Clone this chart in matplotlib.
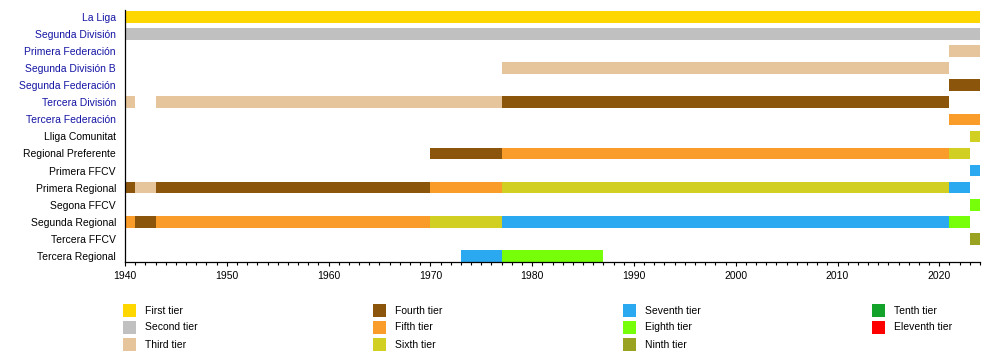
import matplotlib
matplotlib.use("Agg")

import matplotlib.pyplot as plt
from matplotlib.patches import Rectangle
from matplotlib.ticker import MultipleLocator

# leagues, top to bottom
leagues = [
    "La Liga", "Segunda División", "Primera Federación", "Segunda División B",
    "Segunda Federación", "Tercera División", "Tercera Federación",
    "Lliga Comunitat", "Regional Preferente", "Primera FFCV",
    "Primera Regional", "Segona FFCV", "Segunda Regional", "Tercera FFCV",
    "Tercera Regional",
]
linked = [True] * 7 + [False] * 8

tier_names = [
    "First tier", "Second tier", "Third tier", "Fourth tier", "Fifth tier",
    "Sixth tier", "Seventh tier", "Eighth tier", "Ninth tier", "Tenth tier",
    "Eleventh tier",
]
tier_colors = [
    "#FFD700", "#C0C0C0", "#E6C49C", "#8B560C", "#FA9C2A", "#D0CF22",
    "#2AA8F0", "#77FF0A", "#9AA222", "#14A32A", "#FF0000",
]

# (league, start, end, tier number)
periods = [
    ("La Liga", 1940, 2024, 1),
    ("Segunda División", 1940, 2024, 2),
    ("Primera Federación", 2021, 2024, 3),
    ("Segunda División B", 1977, 2021, 3),
    ("Segunda Federación", 2021, 2024, 4),
    ("Tercera División", 1940, 1941, 3),
    ("Tercera División", 1943, 1977, 3),
    ("Tercera División", 1977, 2021, 4),
    ("Tercera Federación", 2021, 2024, 5),
    ("Lliga Comunitat", 2023, 2024, 6),
    ("Regional Preferente", 1970, 1977, 4),
    ("Regional Preferente", 1977, 2021, 5),
    ("Regional Preferente", 2021, 2023, 6),
    ("Primera FFCV", 2023, 2024, 7),
    ("Primera Regional", 1940, 1941, 4),
    ("Primera Regional", 1941, 1943, 3),
    ("Primera Regional", 1943, 1970, 4),
    ("Primera Regional", 1970, 1977, 5),
    ("Primera Regional", 1977, 2021, 6),
    ("Primera Regional", 2021, 2023, 7),
    ("Segona FFCV", 2023, 2024, 8),
    ("Segunda Regional", 1940, 1941, 5),
    ("Segunda Regional", 1941, 1943, 4),
    ("Segunda Regional", 1943, 1970, 5),
    ("Segunda Regional", 1970, 1977, 6),
    ("Segunda Regional", 1977, 2021, 7),
    ("Segunda Regional", 2021, 2023, 8),
    ("Tercera FFCV", 2023, 2024, 9),
    ("Tercera Regional", 1973, 1977, 7),
    ("Tercera Regional", 1977, 1987, 8),
]

plt.rcParams["font.family"] = ["Liberation Sans", "DejaVu Sans"]

fig = plt.figure(figsize=(10, 3.52), dpi=100)
ax = fig.add_axes([0.125, 0.2543, 0.980 - 0.125, 0.9716 - 0.2543])

for league, start, end, tier in periods:
    row = leagues.index(league)
    ax.barh(row, end - start, left=start, height=0.68,
            color=tier_colors[tier - 1], linewidth=0)

ax.set_xlim(1940, 2024)
ax.set_ylim(len(leagues) - 1 + 0.38, -0.4)

ax.set_yticks(range(len(leagues)))
ax.set_yticklabels(leagues, fontsize=7.5)
for lab, blue in zip(ax.get_yticklabels(), linked):
    lab.set_color("#1515A5" if blue else "black")
ax.tick_params(axis="y", length=0, pad=6.5)

ax.xaxis.set_major_locator(MultipleLocator(10))
ax.xaxis.set_minor_locator(MultipleLocator(1))
ax.tick_params(axis="x", which="major", length=3, width=0.8, labelsize=7.5, pad=3)
ax.tick_params(axis="x", which="minor", length=2, width=0.8)

for side in ["top", "right"]:
    ax.spines[side].set_visible(False)
for side in ["left", "bottom"]:
    ax.spines[side].set_linewidth(0.9)

# legend, filled column by column (3, 3, 3, 2)
W, H = 1000, 352
col_x = [123, 373, 623, 872]
row_y = [304, 321, 338]
for i, (name, color) in enumerate(zip(tier_names, tier_colors)):
    col, r = divmod(i, 3)
    x0, y0 = col_x[col], row_y[r]
    fig.add_artist(Rectangle((x0 / W, 1 - (y0 + 12.7) / H), 13 / W, 12.7 / H,
                             transform=fig.transFigure, color=color, lw=0))
    fig.text((x0 + 22) / W, 1 - (y0 + 6.5) / H, name, fontsize=7.5,
             va="center", ha="left")

fig.savefig("out.png", dpi=100)
